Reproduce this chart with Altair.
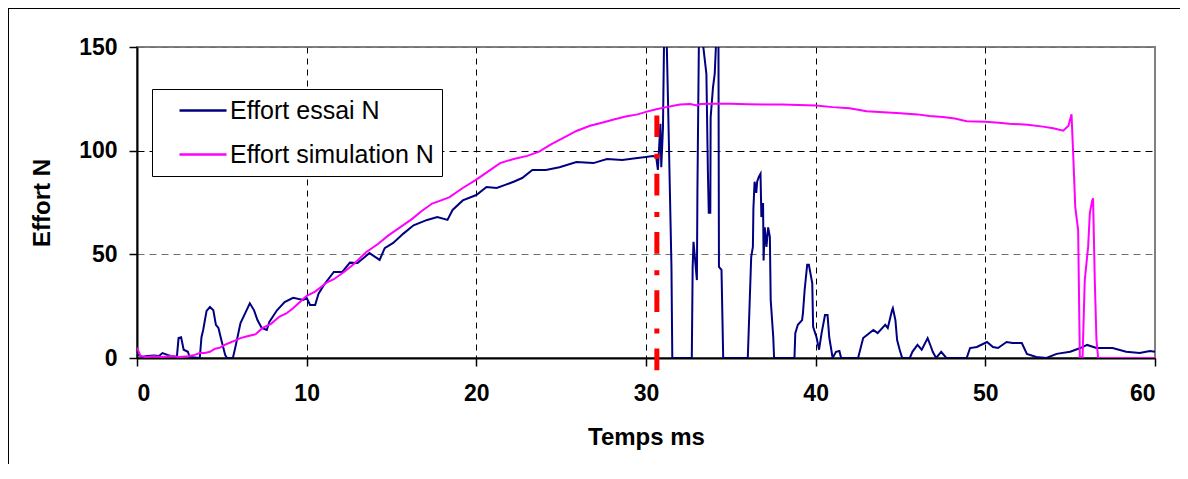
import altair as alt
import pandas as pd

# ---------------- data ----------------
series_names = ["Effort essai N", "Effort simulation N"]
series_colors = ["#000080", "#FF00FF"]

essai_t = [0.0, 0.3, 0.6, 1.0, 1.3, 1.5, 1.8, 2.1, 2.35, 2.45, 2.6, 2.75, 3.0, 3.1, 3.7, 3.8, 3.9, 4.1, 4.3, 4.5,
           4.65, 4.8, 5.0, 5.2, 5.3, 5.65, 5.8, 6.1, 6.4, 6.65, 6.9, 7.1, 7.35, 7.65, 7.8, 8.25, 8.7, 9.2, 9.8, 10.0,
           10.2, 10.5, 10.7, 11.0, 11.6, 12.1, 12.55, 13.0, 13.7, 14.3, 14.6, 15.1, 15.7, 16.3, 17.1, 17.7, 18.3, 18.6,
           19.2, 20.0, 20.6, 21.2, 21.7, 22.2, 22.7, 23.3, 24.1, 24.9, 25.9, 26.9, 27.7, 28.6, 29.5, 30.0, 30.4, 30.6,
           30.7, 30.85, 30.9, 31.0, 31.12, 31.3, 31.5, 31.55, 32.7, 32.75, 32.8, 33.0, 33.03, 33.15, 33.35, 33.56,
           33.65, 33.7, 33.79, 33.81, 33.95, 34.05, 34.2, 34.27, 34.3, 34.45, 34.55, 36.0, 36.2, 36.3, 36.33, 36.4,
           36.5, 36.55, 36.65, 36.75, 36.8, 36.9, 36.93, 37.0, 37.1, 37.2, 37.3, 37.35, 37.5, 37.55, 38.75, 38.8,
           38.95, 39.2, 39.25, 39.35, 39.5, 39.6, 39.8, 39.85, 40.05, 40.2, 40.35, 40.55, 40.7, 40.8, 41.0, 41.2,
           41.4, 41.5, 42.5, 42.8, 43.1, 43.4, 43.65, 44.1, 44.25, 44.5, 44.55, 44.7, 44.8, 44.95, 45.1, 45.55, 45.7,
           46.0, 46.25, 46.6, 46.8, 46.9, 47.1, 47.4, 47.7, 48.9, 49.1, 49.5, 50.1, 50.45, 50.75, 51.25, 51.6, 52.15,
           52.45, 53.0, 53.6, 54.2, 55.0, 55.6, 56.0, 56.55, 57.5, 58.3, 59.1, 59.7, 60.0]
essai_v = [2, 0.5, 1.0, 1.2, 1.0, 2.4, 1.5, 0.8, 0.5, 9.6, 10, 4, 3, 0.5, 0, 10, 13.5, 22.7, 24.6, 23,
           16, 14.5, 7.7, 1.4, 0, 0, 5.3, 16.9, 22, 26.4, 23, 18.3, 14.5, 13.5, 17.4, 23, 27, 29, 28, 29,
           25.6, 25.6, 31, 35, 41.5, 41.5, 46, 45.8, 50.6, 47.3, 53, 55.5, 60, 64, 66.6, 68, 66.6, 71.4,
           76, 78.6, 82.5, 82, 83.5, 85, 86.8, 90.7, 90.7, 92, 94.5, 94, 96, 95.5, 96.5, 97, 97.4, 97,
           90.7, 113, 92, 111, 190, 123, 44, 0, 0, 44, 56, 37.6, 79.6, 180, 152, 137,
           89, 70, 70, 116, 130.7, 137, 165, 155, 44, 42.5, 0, 0, 48.7, 53.6, 72, 85,
           79.6, 85, 87.3, 88.8, 68, 74.8, 47, 63, 53.6, 63, 58.4, 28, 10, 0, 0, 12,
           16, 18.3, 21.6, 32.8, 45, 45, 36, 15, 10, 4, 12, 20.7, 20.7, 10, 0, 3,
           3.4, 0, 0, 9.6, 11.6, 13.5, 12, 16, 14.5, 23, 24, 18.3, 8.7, 4, 0, 0, 3,
           6.3, 4, 9.6, 5.3, 3, 0, 3, 0, 0, 4.8, 5.3, 7.7, 5.3, 4.8, 7.7, 7.2, 7.2,
           2, 0.5, 0, 2, 3, 4.8, 6.3, 4.8, 4.8, 3, 2.4, 3.4, 3]

sim_t = [0.0, 0.2, 0.5, 1.0, 1.5, 2.0, 2.5, 3.0, 3.4, 3.7, 4.0, 4.3, 4.6, 4.9, 5.2, 5.5, 5.8, 6.1, 6.5, 7.0,
         7.4, 7.9, 8.4, 8.8, 9.2, 9.6, 10.0, 10.5, 11.2, 11.6, 12.2, 12.8, 13.5, 14.2, 14.8, 15.5, 16.2, 16.8,
         17.4, 18.4, 19.2, 20.0, 20.7, 21.4, 22.2, 23.0, 23.7, 24.4, 25.1, 25.9, 26.7, 27.4, 28.1, 28.8, 29.5,
         30.0, 30.6, 31.2, 32.0, 32.6, 33.0, 33.2, 34.0, 35.0, 36.0, 37.0, 38.0, 39.0, 40.0, 41.0, 42.0, 43.0,
         44.0, 45.0, 46.0, 46.7, 47.5, 48.2, 48.9, 50.0, 50.8, 51.4, 52.5, 53.4, 54.0, 54.59, 54.9, 55.08, 55.17,
         55.3, 55.47, 55.57, 55.73, 55.86, 56.06, 56.16, 56.3, 56.35, 56.45, 56.55, 56.65, 60.0]
sim_v = [5, 1, 0.5, 0.8, 0.5, 1.0, 0.5, 0.8, 1.5, 2.4, 2.4, 3.0, 4.5, 5.0, 6.5, 7.5, 8.5, 9.6, 10.5, 11.5,
         14.5, 16.5, 20, 21.5, 24, 27, 30, 32, 36.5, 38, 41.5, 45.5, 51, 55, 59, 63, 67, 71,
         74.5, 77.5, 82, 86, 90, 94, 96, 97.5, 99.5, 103, 106, 109.5, 112, 113.5, 115, 116.5, 117.5,
         118.7, 120, 121, 122.3, 122.5, 121.8, 122.5, 122.6, 122.6, 122.4, 122.3, 122.3, 122.0, 121.8, 121.0, 120.5, 119,
         118.5, 118, 117.5, 116.7, 116.2, 115.5, 114.2, 114, 113.5, 113, 112.5, 111.6, 110.8, 109.6, 112, 117.5, 100,
         72.8, 61.7, 0.6, 0, 37.6, 53.7, 70, 76, 77, 37.6, 8.7, 0, 0]

marker_t = [30.64]
marker_top = [117]
marker_bottom = [-6]

x_ticks = [0, 10, 20, 30, 40, 50, 60]
y_ticks = [0, 50, 100, 150]

# ---------------- tables ----------------
df = pd.concat([
    pd.DataFrame({"t": essai_t, "v": essai_v, "serie": series_names[0], "ordre": range(len(essai_t))}),
    pd.DataFrame({"t": sim_t, "v": sim_v, "serie": series_names[1], "ordre": range(len(sim_t))}),
])
marker_df = pd.DataFrame({"t": marker_t, "haut": marker_top, "bas": marker_bottom})

FONT = "Liberation Sans"

x_axis = alt.Axis(values=x_ticks, title="Temps ms", labelFont=FONT, labelFontSize=23, labelFontWeight="bold",
                  labelColor="black", titleFont=FONT, titleFontSize=24, titleFontWeight="bold", titleColor="black",
                  tickSize=8, tickColor="black", tickWidth=1.5, domainColor="black", domainWidth=2,
                  labelPadding=16, titlePadding=20, grid=True, gridDash=[6, 5], gridWidth=1,
                  gridColor={"condition": {"test": "datum.value == 60 || datum.value == 0", "value": "#808080"},
                             "value": "#000000"})
y_axis = alt.Axis(values=y_ticks, title="Effort N", labelFont=FONT, labelFontSize=23, labelFontWeight="bold",
                  labelColor="black", titleFont=FONT, titleFontSize=24, titleFontWeight="bold", titleColor="black",
                  tickSize=8, tickColor="black", tickWidth=1.5, domainColor="black", domainWidth=2,
                  labelPadding=12, titlePadding=24, grid=True, gridDash=[7, 5], gridWidth=1.2,
                  gridColor={"condition": {"test": "datum.value != 100", "value": "#707070"},
                             "value": "#000000"})

x_enc = alt.X("t:Q", scale=alt.Scale(domain=[0, 60], nice=False, zero=False), axis=x_axis)
y_enc = alt.Y("v:Q", scale=alt.Scale(domain=[0, 150], nice=False), axis=y_axis)

lines = alt.Chart(df).mark_line(strokeWidth=2, clip=True).encode(
    x=x_enc,
    y=y_enc,
    color=alt.Color("serie:N", scale=alt.Scale(domain=series_names, range=series_colors),
                    legend=alt.Legend(title=None, orient="none", legendX=15, legendY=42, direction="vertical",
                                      symbolType="M0.5,0H4.42", symbolSize=576, symbolStrokeWidth=2.5,
                                      labelFont=FONT, labelFontSize=25, labelColor="black", labelOffset=43,
                                      rowPadding=17, padding=8, strokeColor="black", fillColor="white",
                                      labelLimit=400)),
    order="ordre:Q",
)

marker = alt.Chart(marker_df).mark_rule(color="#FF0000", strokeWidth=5, strokeDash=[21.7, 16.6, 5, 15],
                                         strokeCap="butt", clip=False).encode(
    x=alt.X("t:Q", scale=alt.Scale(domain=[0, 60], nice=False, zero=False)),
    y=alt.Y("haut:Q", scale=alt.Scale(domain=[0, 150], nice=False)),
    y2="bas:Q",
)

frame_src = alt.Chart(pd.DataFrame({"k": [0]}))
frame_top = frame_src.mark_rule(color="black", strokeWidth=1, clip=False).encode(
    x=alt.value(-129), x2=alt.value(1043), y=alt.value(-38.5))
frame_left = frame_src.mark_rule(color="black", strokeWidth=1, clip=False).encode(
    x=alt.value(-128.5), y=alt.value(-39), y2=alt.value(440))

chart = alt.layer(lines, marker, frame_top, frame_left).properties(
    width=1018, height=311,
    padding={"left": 129, "top": 39, "right": 25, "bottom": 106},
    autosize=alt.AutoSizeParams(type="none"),
    background="white",
).configure_view(stroke="#808080", strokeWidth=2)

chart.save("out.html", embed_options={"renderer": "svg", "actions": False})
